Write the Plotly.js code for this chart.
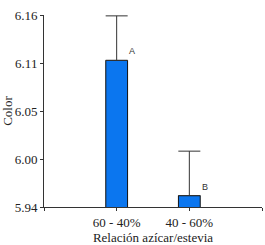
<!DOCTYPE html>
<html>
<head>
<meta charset="utf-8">
<script src="https://cdn.plot.ly/plotly-3.0.1.min.js"></script>
<style>html,body{margin:0;padding:0;background:#fff;}#chart{width:265px;height:245px;}</style>
</head>
<body>
<div id="chart"></div>
<script>
const categories = ["60 - 40%", "40 - 60%"];
const means = [6.108, 5.953];
const errors = [0.051, 0.051];
const letters = ["A", "B"];
const yTickVals = [5.94, 5.995, 6.05, 6.105, 6.16];
const yTickText = ["5.94", "6.00", "6.05", "6.11", "6.16"];

const xs = categories.map((c, i) => i);
const serif = "Liberation Serif";

const trace = {
  type: "bar",
  x: xs,
  y: means,
  width: 0.3,
  marker: { color: "#0b76ef", line: { color: "#111", width: 1 } },
  error_y: {
    type: "data", symmetric: false, array: errors, arrayminus: errors.map(() => 0),
    color: "#333", thickness: 1, width: 11
  },
  hoverinfo: "skip"
};

const annotations = letters.map((t, i) => ({
  x: i + 0.21, y: means[i], xref: "x", yref: "y", text: t, showarrow: false,
  xanchor: "center", yanchor: "bottom", yshift: 2,
  font: { family: "Liberation Sans", size: 9, color: "#333" }
}));

const layout = {
  width: 265, height: 245,
  margin: { l: 44, r: 3, t: 15, b: 38 },
  paper_bgcolor: "#fff", plot_bgcolor: "#fff",
  showlegend: false,
  font: { family: serif, size: 13, color: "#222" },
  xaxis: {
    range: [-1, 2],
    tickvals: [-1].concat(xs, [2]),
    ticktext: [""].concat(categories, [""]),
    showgrid: false, zeroline: false,
    showline: true, linecolor: "#333", linewidth: 1,
    ticks: "outside", ticklen: 3, tickcolor: "#333",
    tickfont: { family: serif, size: 13, color: "#222" },
    title: { text: "Relación azícar/estevia", font: { family: serif, size: 13, color: "#222" }, standoff: 2 },
    automargin: false, fixedrange: true
  },
  yaxis: {
    range: [5.94, 6.16],
    tickvals: yTickVals, ticktext: yTickText,
    showgrid: false, zeroline: false,
    showline: true, linecolor: "#333", linewidth: 1,
    ticks: "outside", ticklen: 3, tickcolor: "#333",
    tickfont: { family: serif, size: 13, color: "#222" },
    title: { text: "Color", font: { family: serif, size: 13, color: "#222" }, standoff: 8 },
    automargin: false, fixedrange: true
  },
  annotations: annotations
};

Plotly.newPlot("chart", [trace], layout, { displayModeBar: false, staticPlot: true });
</script>
</body>
</html>
